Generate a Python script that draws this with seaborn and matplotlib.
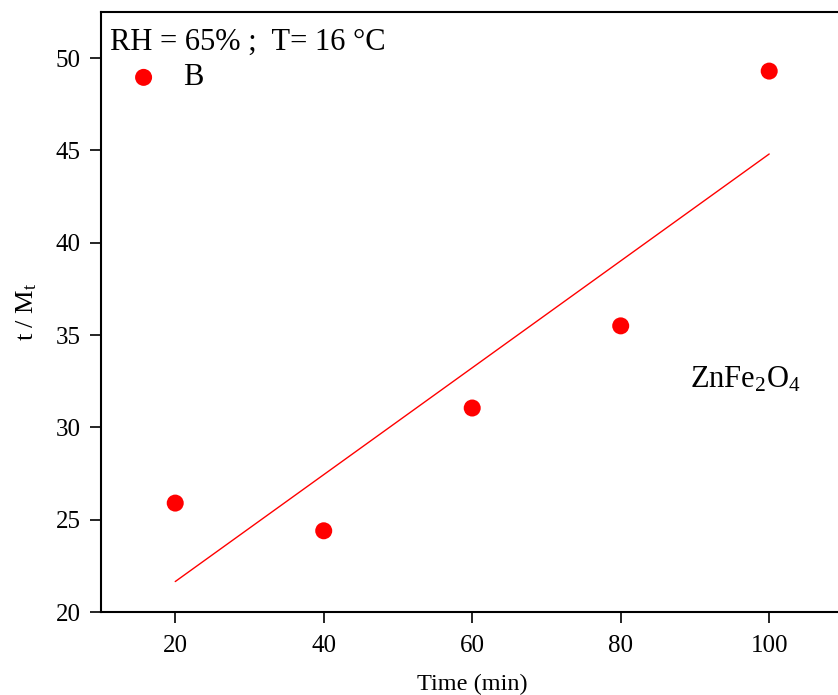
import matplotlib
matplotlib.use("Agg")
import matplotlib.pyplot as plt
import seaborn as sns
import pandas as pd

time_min = [20, 40, 60, 80, 100]
t_over_mt = [25.9, 24.4, 31.05, 35.5, 49.3]
x_ticks = [20, 40, 60, 80, 100]
y_ticks = [20, 25, 30, 35, 40, 45, 50]

df = pd.DataFrame({"Time (min)": time_min, "t/Mt": t_over_mt})

sns.set_theme(style="ticks", rc={"text.color": "black", "axes.labelcolor": "black",
                                 "xtick.color": "black", "ytick.color": "black",
                                 "axes.edgecolor": "black"})
plt.rcParams["font.family"] = ["Liberation Serif", "DejaVu Serif"]
plt.rcParams["mathtext.fontset"] = "custom"
plt.rcParams["mathtext.rm"] = "Liberation Serif"
plt.rcParams["mathtext.it"] = "Liberation Serif:italic"

fig = plt.figure(figsize=(8.38, 6.95), dpi=100)
ax = fig.add_axes([0.1205, 0.1194, 0.886, 0.8633])

sns.regplot(data=df, x="Time (min)", y="t/Mt", ax=ax, scatter=False, ci=None,
            truncate=True, line_kws=dict(color="red", lw=1.0))
sns.scatterplot(data=df, x="Time (min)", y="t/Mt", ax=ax, color="red", s=150,
                edgecolor="none", label="B", zorder=3)

ax.set_xlim(10, 110)
ax.set_ylim(20, 52.5)
ax.set_xticks(x_ticks)
ax.set_yticks(y_ticks)
ax.tick_params(axis="both", labelsize=18, length=8, width=1.2, color="black",
               labelcolor="black", direction="out")
ax.tick_params(axis="x", pad=8.5)
ax.tick_params(axis="y", pad=6.5)
ax.set_xlabel("Time (min)", fontsize=17.5, labelpad=12)
ax.set_ylabel(r"t / M$_\mathrm{t}$", fontsize=19, labelpad=12)

for side in ["left", "bottom", "top"]:
    ax.spines[side].set_visible(True)
    ax.spines[side].set_linewidth(1.5)
    ax.spines[side].set_color("black")
ax.spines["right"].set_visible(False)

leg = ax.legend(title="RH = 65% ;  T= 16 °C", loc="upper left", frameon=False,
                fontsize=22, title_fontsize=22, borderaxespad=0.0,
                bbox_to_anchor=(0.008, 0.978),
                borderpad=0.1, labelspacing=0.2, handlelength=2.2,
                handletextpad=0.2, markerscale=1.0)
leg._legend_box.align = "left"

ax.text(0.793, 0.387, r"ZnFe$_2$O$_4$", transform=ax.transAxes, fontsize=22,
        ha="left", va="center")

fig.savefig("out.png", dpi=100)
